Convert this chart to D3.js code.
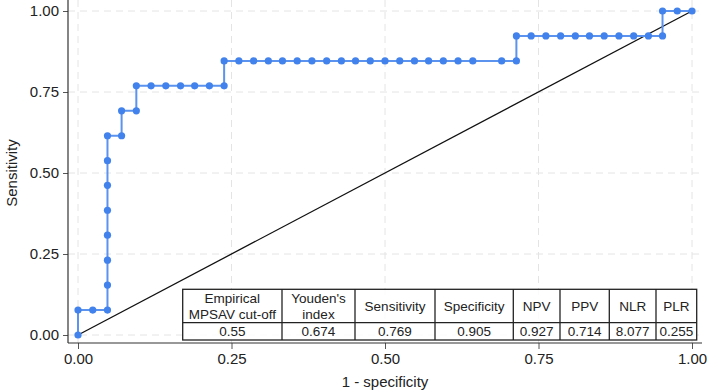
<!DOCTYPE html>
<html>
<head>
<meta charset="utf-8">
<script src="https://cdn.jsdelivr.net/npm/d3@7"></script>
<style>
  body { margin: 0; background: #fff; }
  svg { display: block; font-family: "Liberation Sans", Arial, sans-serif; }
</style>
</head>
<body>
<svg></svg>
<script>
// ROC curve points: 1 - specificity and sensitivity
let fpr = [0, 0, 0.024, 0.048, 0.048, 0.048, 0.048, 0.048, 0.048, 0.048, 0.048,
    0.071, 0.071, 0.095, 0.095, 0.119, 0.143, 0.167, 0.190, 0.214, 0.238, 0.238,
    0.262, 0.286, 0.310, 0.333, 0.357, 0.381, 0.405, 0.429, 0.452, 0.476, 0.500,
    0.524, 0.548, 0.571, 0.595, 0.619, 0.643, 0.690, 0.714, 0.714, 0.738, 0.762,
    0.786, 0.810, 0.833, 0.857, 0.881, 0.905, 0.929, 0.952, 0.952, 0.976, 1]
let sens = [0, 0.077, 0.077, 0.077, 0.154, 0.231, 0.308, 0.385, 0.462, 0.538, 0.615,
    0.615, 0.692, 0.692, 0.769, 0.769, 0.769, 0.769, 0.769, 0.769, 0.769, 0.846,
    0.846, 0.846, 0.846, 0.846, 0.846, 0.846, 0.846, 0.846, 0.846, 0.846, 0.846,
    0.846, 0.846, 0.846, 0.846, 0.846, 0.846, 0.846, 0.846, 0.923, 0.923, 0.923,
    0.923, 0.923, 0.923, 0.923, 0.923, 0.923, 0.923, 0.923, 1, 1, 1]

let tickValues = [0, 0.25, 0.5, 0.75, 1]

let tableHeaders = [['Empirical', 'MPSAV cut-off'], ["Youden's", 'index'], ['Sensitivity'],
    ['Specificity'], ['NPV'], ['PPV'], ['NLR'], ['PLR']]
let tableValues = ['0.55', '0.674', '0.769', '0.905', '0.927', '0.714', '8.077', '0.255']

let w = 709
let h = 392
let axisX = 68
let axisY = 343
let plotRight = 702

let svg = d3.select('svg').attr('width', w).attr('height', h)

let xScale = d3.scaleLinear().domain([0, 1]).range([78, 692])
let yScale = d3.scaleLinear().domain([0, 1]).range([335, 11])

let drawGrid = () => {
    let g = svg.append('g')
    g.selectAll('.gx')
     .data(tickValues)
     .enter()
     .append('line')
     .attr('x1', (d) => xScale(d))
     .attr('x2', (d) => xScale(d))
     .attr('y1', 0)
     .attr('y2', axisY)
     .attr('stroke', '#e4e4e4')
     .attr('stroke-dasharray', '7,5')
    g.selectAll('.gy')
     .data(tickValues)
     .enter()
     .append('line')
     .attr('x1', axisX)
     .attr('x2', plotRight)
     .attr('y1', (d) => yScale(d))
     .attr('y2', (d) => yScale(d))
     .attr('stroke', '#e4e4e4')
     .attr('stroke-dasharray', '7,5')
}

let drawAxes = () => {
    let xAxis = d3.axisBottom(xScale)
                  .tickValues(tickValues)
                  .tickFormat(d3.format('.2f'))
                  .tickSize(6)
                  .tickPadding(4)
    let gx = svg.append('g')
        .attr('transform', 'translate(0,' + axisY + ')')
        .call(xAxis)
    gx.select('.domain').remove()
    gx.append('line')
      .attr('x1', axisX).attr('x2', plotRight)
      .attr('stroke', '#333').attr('stroke-width', 1.2)

    let yAxis = d3.axisLeft(yScale)
                  .tickValues(tickValues)
                  .tickFormat(d3.format('.2f'))
                  .tickSize(5)
                  .tickPadding(4)
    let gy = svg.append('g')
        .attr('transform', 'translate(' + axisX + ',0)')
        .call(yAxis)
    gy.select('.domain').remove()
    gy.append('line')
      .attr('y1', 0).attr('y2', axisY)
      .attr('stroke', '#333').attr('stroke-width', 1.2)

    svg.selectAll('.tick line').attr('stroke', '#555')
    svg.selectAll('.tick text')
       .attr('font-size', '15px')
       .attr('fill', '#222')
       .attr('font-family', '"Liberation Sans", Arial, sans-serif')

    svg.append('text')
       .attr('x', xScale(0.5))
       .attr('y', 387)
       .attr('text-anchor', 'middle')
       .attr('font-size', '15px')
       .attr('fill', '#222')
       .text('1 - specificity')

    svg.append('text')
       .attr('transform', 'translate(17,' + yScale(0.5) + ') rotate(-90)')
       .attr('text-anchor', 'middle')
       .attr('font-size', '15px')
       .attr('fill', '#222')
       .text('Sensitivity')
}

let drawCurve = () => {
    svg.append('line')
       .attr('x1', xScale(0)).attr('y1', yScale(0))
       .attr('x2', xScale(1)).attr('y2', yScale(1))
       .attr('stroke', '#111')
       .attr('stroke-width', 1.3)

    let pts = fpr.map((d, i) => [d, sens[i]])
    let line = d3.line()
                 .x((d) => xScale(d[0]))
                 .y((d) => yScale(d[1]))
    svg.append('path')
       .datum(pts)
       .attr('d', line)
       .attr('fill', 'none')
       .attr('stroke', '#5b93ee')
       .attr('stroke-width', 2)

    svg.selectAll('.pt')
       .data(pts)
       .enter()
       .append('circle')
       .attr('cx', (d) => xScale(d[0]))
       .attr('cy', (d) => yScale(d[1]))
       .attr('r', 3.6)
       .attr('fill', '#4282ec')
}

let drawTable = () => {
    let colEdges = [182.7, 282, 355, 435, 513.3, 560, 609.3, 656, 696.7]
    let top = 289.3
    let mid = 322.7
    let bottom = 340
    let g = svg.append('g')
               .attr('font-family', '"Liberation Sans", Arial, sans-serif')
               .attr('font-size', '13.5px')
               .attr('fill', '#222')

    g.append('rect')
     .attr('x', colEdges[0]).attr('y', top)
     .attr('width', colEdges[8] - colEdges[0]).attr('height', bottom - top)
     .attr('fill', '#fff')
     .attr('fill-opacity', 0.85)
     .attr('stroke', '#222')
     .attr('stroke-width', 1.3)
    g.append('line')
     .attr('x1', colEdges[0]).attr('x2', colEdges[8])
     .attr('y1', mid).attr('y2', mid)
     .attr('stroke', '#222').attr('stroke-width', 1.3)
    g.selectAll('.vsep')
     .data(colEdges.slice(1, 8))
     .enter()
     .append('line')
     .attr('x1', (d) => d).attr('x2', (d) => d)
     .attr('y1', top).attr('y2', bottom)
     .attr('stroke', '#222').attr('stroke-width', 1.3)

    tableHeaders.forEach((lines, i) => {
        let cx = (colEdges[i] + colEdges[i + 1]) / 2
        let cy = (top + mid) / 2
        lines.forEach((t, j) => {
            g.append('text')
             .attr('x', cx)
             .attr('y', cy + (j - (lines.length - 1) / 2) * 16)
             .attr('dy', '0.35em')
             .attr('text-anchor', 'middle')
             .text(t)
        })
        g.append('text')
         .attr('x', cx)
         .attr('y', (mid + bottom) / 2)
         .attr('dy', '0.35em')
         .attr('text-anchor', 'middle')
         .text(tableValues[i])
    })
}

drawGrid()
drawAxes()
drawCurve()
drawTable()
</script>
</body>
</html>
